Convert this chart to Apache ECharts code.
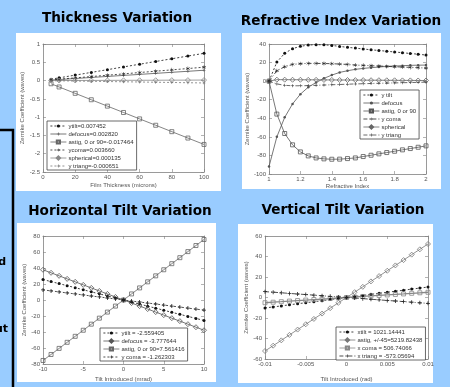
<!DOCTYPE html>
<html>
<head>
<meta charset="utf-8">
<script src="https://cdn.jsdelivr.net/npm/echarts@6/dist/echarts.min.js"></script>
<style>
  html, body { margin: 0; padding: 0; background: #99ccff; }
  #chart { width: 450px; height: 387px; }
</style>
</head>
<body>
<div id="chart"></div>
<script>
// Thickness Variation (film thickness, microns)
const thickX = [5, 10, 20, 30, 40, 50, 60, 70, 80, 90, 100];
const thickYtilt = [0.037, 0.075, 0.149, 0.224, 0.298, 0.373, 0.447, 0.522, 0.596, 0.671, 0.745];
const thickDefocus = [0.014, 0.028, 0.056, 0.085, 0.113, 0.141, 0.169, 0.197, 0.226, 0.254, 0.282];
const thickAstig = [-0.087, -0.175, -0.349, -0.524, -0.699, -0.873, -1.048, -1.222, -1.397, -1.572, -1.746];
const thickYcoma = [0.018, 0.037, 0.073, 0.110, 0.146, 0.183, 0.220, 0.256, 0.293, 0.329, 0.366];
const thickSpherical = [0.001, 0.001, 0.003, 0.004, 0.005, 0.007, 0.008, 0.009, 0.011, 0.012, 0.014];
const thickYtriang = [-0.003, -0.007, -0.013, -0.020, -0.026, -0.033, -0.039, -0.046, -0.052, -0.059, -0.065];

// Refractive Index Variation
const indexX = [1, 1.05, 1.1, 1.15, 1.2, 1.25, 1.3, 1.35, 1.4, 1.45, 1.5, 1.55, 1.6, 1.65, 1.7, 1.75, 1.8, 1.85, 1.9, 1.95, 2];
const indexYtilt = [0, 20.5, 30, 35, 37.5, 38.8, 39.3, 39.1, 38.5, 37.4, 36.4, 35.6, 34.6, 33.8, 33, 32.2, 31.4, 30.6, 29.8, 29, 28.1];
const indexDefocus = [-92, -60, -39, -24.5, -14, -6.5, -1.5, 3, 6.5, 9.4, 11.2, 12.7, 13.7, 14.5, 15.2, 15.9, 16.3, 16.6, 17, 17.2, 17.3];
const indexAstig = [0, -35.5, -56.4, -68.6, -76.2, -80.5, -82.7, -83.7, -84.1, -84, -83.4, -82.7, -81.2, -79.8, -78.3, -76.9, -75.5, -74, -72.6, -71.2, -69.7];
const indexYcoma = [0, 11.2, 15.5, 18, 18.8, 19.1, 19.1, 19, 18.8, 18.4, 18, 17.3, 17, 16.6, 16.3, 15.9, 15.5, 15.2, 14.8, 14.5, 14.1];
const indexSpherical = [0, 1.6, 1.6, 1.5, 1.5, 1.4, 1.4, 1.3, 1.3, 1.2, 1.2, 1.1, 1.1, 1.0, 1.0, 0.9, 0.9, 0.8, 0.8, 0.7, 0.7];
const indexYtriang = [0, -3, -4.5, -5, -5, -4.8, -4.5, -4.2, -3.9, -3.6, -3.3, -3, -2.8, -2.5, -2.3, -2.1, -1.9, -1.7, -1.5, -1.3, -1.1];

// Horizontal Tilt Variation (mrad)
const htiltX = [-10, -9, -8, -7, -6, -5, -4, -3, -2, -1, 0, 1, 2, 3, 4, 5, 6, 7, 8, 9, 10];
const htiltYtilt = [25.6, 23.0, 20.5, 17.9, 15.4, 12.8, 10.2, 7.7, 5.1, 2.6, 0, -2.6, -5.1, -7.7, -10.2, -12.8, -15.4, -17.9, -20.5, -23.0, -25.6];
const htiltDefocus = [37.8, 34.0, 30.2, 26.4, 22.7, 18.9, 15.1, 11.3, 7.6, 3.8, 0, -3.8, -7.6, -11.3, -15.1, -18.9, -22.7, -26.4, -30.2, -34.0, -37.8];
const htiltAstig = [-75.6, -68.1, -60.5, -52.9, -45.4, -37.8, -30.2, -22.7, -15.1, -7.6, 0, 7.6, 15.1, 22.7, 30.2, 37.8, 45.4, 52.9, 60.5, 68.1, 75.6];
const htiltYcoma = [12.6, 11.4, 10.1, 8.8, 7.6, 6.3, 5.0, 3.8, 2.5, 1.3, 0, -1.3, -2.5, -3.8, -5.0, -6.3, -7.6, -8.8, -10.1, -11.4, -12.6];

// Vertical Tilt Variation (rad)
const vtiltX = [-0.01, -0.009, -0.008, -0.007, -0.006, -0.005, -0.004, -0.003, -0.002, -0.001, 0, 0.001, 0.002, 0.003, 0.004, 0.005, 0.006, 0.007, 0.008, 0.009, 0.01];
const vtiltXtilt = [-10.2, -9.2, -8.2, -7.1, -6.1, -5.1, -4.1, -3.1, -2.0, -1.0, 0, 1.0, 2.0, 3.1, 4.1, 5.1, 6.1, 7.1, 8.2, 9.2, 10.2];
const vtiltAstig = [-52.2, -47.0, -41.8, -36.5, -31.3, -26.1, -20.9, -15.7, -10.4, -5.2, 0, 5.2, 10.4, 15.7, 20.9, 26.1, 31.3, 36.5, 41.8, 47.0, 52.2];
const vtiltXcoma = [-5.1, -4.6, -4.1, -3.5, -3.0, -2.5, -2.0, -1.5, -1.0, -0.5, 0, 0.5, 1.0, 1.5, 2.0, 2.5, 3.0, 3.5, 4.1, 4.6, 5.1];
const vtiltXtriang = [5.7, 5.2, 4.6, 4.0, 3.4, 2.9, 2.3, 1.7, 1.1, 0.6, 0, -0.6, -1.1, -1.7, -2.3, -2.9, -3.4, -4.0, -4.6, -5.2, -5.7];

const YNAME = 'Zernike Coefficient (waves)';
const FONT = 'Liberation Sans, Arial, sans-serif';
const TICK = '#555';
const FRAME = '#808080';

// matlab-ish markers
const PLUS = 'path://M4,0H6V4H10V6H6V10H4V6H0V4H4Z';
const STAR = 'path://M4.5,0h1v3.8l3.3-1.9l0.5,0.9l-3.3,1.9l3.3,1.9l-0.5,0.9l-3.3-1.9v3.8h-1v-3.8l-3.3,1.9l-0.5-0.9l3.3-1.9l-3.3-1.9l0.5-0.9l3.3,1.9z';
const DOT = [2, 2];
const DASHDOT = [4, 2, 1, 2];

const grids = [
  { left: 43, top: 44, width: 161, height: 128 },
  { left: 269, top: 44, width: 157, height: 130 },
  { left: 43, top: 236, width: 161, height: 128 },
  { left: 265, top: 236, width: 163, height: 123 }
];

function xAxes(g, min, max, interval, name, gap, fmt) {
  const base = {
    gridIndex: g, type: 'value', min: min, max: max, interval: interval,
    axisLine: { show: true, onZero: false, lineStyle: { color: FRAME, width: 0.8 } },
    axisTick: { show: true, inside: true, length: 3, lineStyle: { color: FRAME, width: 0.6 } },
    splitLine: { show: false }
  };
  return [
    Object.assign({}, base, {
      position: 'bottom', name: name, nameLocation: 'middle', nameGap: gap,
      nameTextStyle: { fontSize: 6, color: TICK, fontFamily: FONT },
      axisLabel: { fontSize: 6, color: TICK, margin: 2, fontFamily: FONT, formatter: fmt }
    }),
    Object.assign({}, base, { position: 'top', axisLabel: { show: false } })
  ];
}

function yAxes(g, min, max, interval, gap) {
  const base = {
    gridIndex: g, type: 'value', min: min, max: max, interval: interval,
    axisLine: { show: true, onZero: false, lineStyle: { color: FRAME, width: 0.8 } },
    axisTick: { show: true, inside: true, length: 3, lineStyle: { color: FRAME, width: 0.6 } },
    splitLine: { show: false }
  };
  return [
    Object.assign({}, base, {
      position: 'left', name: YNAME, nameLocation: 'middle', nameGap: gap,
      nameTextStyle: { fontSize: 6, color: TICK, fontFamily: FONT },
      axisLabel: { fontSize: 6, color: TICK, margin: 3, fontFamily: FONT }
    }),
    Object.assign({}, base, { position: 'right', axisLabel: { show: false } })
  ];
}

function line(g, name, xs, ys, color, type, symbol, size, hollow, width) {
  return {
    type: 'line', name: name, xAxisIndex: g * 2, yAxisIndex: g * 2,
    data: xs.map((x, i) => [x, ys[i]]),
    symbol: symbol, symbolSize: size, showSymbol: true,
    lineStyle: { color: color, width: width || 0.8, type: type },
    itemStyle: hollow
      ? { color: 'rgba(255,255,255,0)', borderColor: color, borderWidth: 0.8 }
      : { color: color, borderWidth: 0 },
    emphasis: { disabled: true },
    clip: true
  };
}

function legend(names, left, top) {
  return {
    data: names, orient: 'vertical', left: left, top: top,
    itemWidth: 16, itemHeight: 4, itemGap: 2,
    padding: [2, 3, 1, 3], backgroundColor: '#fff',
    borderColor: '#444', borderWidth: 0.8, borderRadius: 0,
    selectedMode: false,
    lineStyle: { width: 0.8 },
    textStyle: { fontSize: 6, lineHeight: 6, color: '#333', fontFamily: FONT, padding: [0, 0, 0, -3] }
  };
}

const s1 = ['ytilt=0.007452', 'defocus=0.002820', 'astig, 0 or 90=-0.017464', 'ycoma=0.003660', 'spherical=0.000135', 'y triang=-0.000651'];
const s2 = ['y tilt', 'defocus', 'astig, 0 or 90', 'y coma', 'spherical', 'y triang'];
const s3 = ['ytilt = -2.559405', 'defocus = -3.777644', 'astig, 0 or 90=7.561416', 'y coma = -1.262303'];
const s4 = ['xtilt = 1021.14441', 'astig, +/-45=5219.82438', 'x coma = 506.74066', 'x triang = -573.05694'];

const series = [
  line(0, s1[0], thickX, thickYtilt, '#111', DOT, 'circle', 3),
  line(0, s1[1], thickX, thickDefocus, '#555', 'solid', PLUS, 3),
  line(0, s1[2], thickX, thickAstig, '#666', 'solid', 'rect', 4, true),
  line(0, s1[3], thickX, thickYcoma, '#222', DOT, STAR, 4),
  line(0, s1[4], thickX, thickSpherical, '#888', 'solid', 'diamond', 5, true),
  line(0, s1[5], thickX, thickYtriang, '#777', DOT, PLUS, 3),

  line(1, s2[0], indexX, indexYtilt, '#111', DOT, 'circle', 3),
  line(1, s2[1], indexX, indexDefocus, '#555', 'solid', 'circle', 2.5),
  line(1, s2[2], indexX, indexAstig, '#555', 'solid', 'rect', 4, true),
  line(1, s2[3], indexX, indexYcoma, '#222', DASHDOT, STAR, 4),
  line(1, s2[4], indexX, indexSpherical, '#666', 'solid', 'diamond', 5, true),
  line(1, s2[5], indexX, indexYtriang, '#444', DASHDOT, PLUS, 3),

  line(2, s3[0], htiltX, htiltYtilt, '#111', DOT, 'circle', 3),
  line(2, s3[1], htiltX, htiltDefocus, '#555', 'solid', 'diamond', 5, true),
  line(2, s3[2], htiltX, htiltAstig, '#666', 'solid', 'rect', 4, true),
  line(2, s3[3], htiltX, htiltYcoma, '#222', DOT, PLUS, 4),

  line(3, s4[0], vtiltX, vtiltXtilt, '#111', DOT, 'circle', 3),
  line(3, s4[1], vtiltX, vtiltAstig, '#777', 'solid', 'diamond', 5, true),
  line(3, s4[2], vtiltX, vtiltXcoma, '#888', 'solid', 'rect', 4, true, 1.3),
  line(3, s4[3], vtiltX, vtiltXtriang, '#222', DASHDOT, PLUS, 4)
];

function title(text, x, y) {
  return {
    type: 'text', x: x, y: y, z: 10,
    style: { text: text, fill: '#000', font: 'bold 13.6px "DejaVu Sans", Verdana, sans-serif', textAlign: 'center', textVerticalAlign: 'middle' }
  };
}

function panel(x, y, w, h) {
  return { type: 'rect', z: -10, shape: { x: x, y: y, width: w, height: h }, style: { fill: '#fff' } };
}

const chart = echarts.init(document.getElementById('chart'), null, { renderer: 'canvas' });
chart.setOption({
  animation: false,
  backgroundColor: '#99ccff',
  graphic: [
    // left slide box (mostly cut off)
    { type: 'rect', z: -10, shape: { x: -10, y: 130, width: 23, height: 270 },
      style: { fill: '#99ccff', stroke: '#000', lineWidth: 2.5 } },
    { type: 'text', x: 6, y: 262, style: { text: 'd', fill: '#000', font: 'bold 11px "DejaVu Sans", sans-serif', textAlign: 'right', textVerticalAlign: 'middle' } },
    { type: 'text', x: 8, y: 329, style: { text: 'ut', fill: '#000', font: 'bold 11px "DejaVu Sans", sans-serif', textAlign: 'right', textVerticalAlign: 'middle' } },
    panel(16, 33, 205, 158),
    panel(242, 33, 199, 156),
    panel(17, 223, 199, 159),
    panel(238, 224, 195, 159),
    title('Thickness Variation', 117, 18),
    title('Refractive Index Variation', 341, 21),
    title('Horizontal Tilt Variation', 120, 211),
    title('Vertical Tilt Variation', 343, 210)
  ],
  grid: grids.map(g => Object.assign({ show: false, containLabel: false }, g)),
  xAxis: [].concat(
    xAxes(0, 0, 100, 20, 'Film Thickness (microns)', 10),
    xAxes(1, 1, 2, 0.2, 'Refractive Index', 9, v => String(+v.toFixed(1))),
    xAxes(2, -10, 10, 5, 'Tilt Introduced (mrad)', 12),
    xAxes(3, -0.01, 0.01, 0.005, 'Tilt Introduced (rad)', 17, v => String(+v.toFixed(3)))
  ),
  yAxis: [].concat(
    yAxes(0, -2.5, 1, 0.5, 18),
    yAxes(1, -100, 40, 20, 17),
    yAxes(2, -80, 80, 20, 15),
    yAxes(3, -60, 60, 20, 15)
  ),
  legend: [
    legend(s1, 47, 121),
    legend(s2, 360, 90),
    legend(s3, 100, 328),
    legend(s4, 336, 327)
  ],
  series: series
});
</script>
</body>
</html>
